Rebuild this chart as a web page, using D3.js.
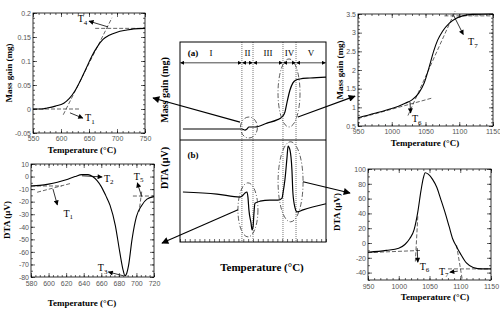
<!DOCTYPE html>
<html><head><meta charset="utf-8">
<script src="https://cdn.jsdelivr.net/npm/d3@7"></script>
<style>body{margin:0;background:#fff}</style>
</head><body>
<svg id="c" width="500" height="309" xmlns="http://www.w3.org/2000/svg"></svg>
<script>
// ---------- data ----------
// top-left: mass gain 550-750 C
const tlTemp = [550,565,575,590,605,615,625,635,645,655,665,675,685,700,715,730,750];
const tlMass = [0,0,0.002,0.006,0.012,0.022,0.038,0.06,0.085,0.11,0.13,0.145,0.153,0.16,0.164,0.167,0.168];
const tlTicksX = [550,600,650,700,750];
const tlTicksY = [-0.05,0,0.05,0.1,0.15,0.2];
// top-right: mass gain 950-1150 C
const trTemp = [950,975,1000,1010,1020,1030,1040,1048,1055,1062,1068,1075,1085,1095,1105,1120,1150];
const trMass = [0.72,0.84,0.97,1.03,1.11,1.2,1.38,1.65,2.05,2.5,2.8,3.03,3.25,3.38,3.45,3.49,3.5];
const trTicksX = [950,1000,1050,1100,1150];
const trTicksY = [0.5,1,1.5,2,2.5,3,3.5];
// bottom-left: DTA 580-720 C
const blTemp = [580,590,600,610,620,630,638,645,650,655,660,665,670,676,681,685,687,689,691,695,700,706,712,720];
const blDta  = [-7.5,-7,-6,-4.5,-2.5,0,1.5,1.5,0,-3,-8,-15,-23,-39,-60,-75,-79,-77,-71,-50,-32,-23,-18,-16];
const blTicksX = [580,600,620,640,660,680,700,720];
const blTicksY = [-80,-70,-60,-50,-40,-30,-20,-10,0,10];
// bottom-right: DTA 950-1150 C
const brTemp = [950,980,1000,1010,1018,1025,1031,1036,1040,1043,1048,1055,1062,1068,1075,1082,1088,1094,1100,1110,1121,1135,1150];
const brDta  = [-12.5,-10,-7,-2,6,18,42,70,88,95,93,86,75,60,42,22,5,-5,-14,-27,-33,-35,-35];
const brTicksX = [950,1000,1050,1100,1150];
const brTicksY = [-40,-20,0,20,40,60,80,100];
// middle overview (schematic)
const midTemp = [415,718,734,744,754,785,847,898,924,939,950,965,980,996,1016,1068,1150];
const midMass = [0.45,0.45,0.40,0.45,0.53,0.53,0.69,0.82,0.94,1.14,1.55,2.04,2.33,2.45,2.49,2.53,2.57];
const midDtaTemp = [415,590,708,724,734,744,749,754,765,770,775,780,785,811,862,903,924,929,939,950,955,965,975,980,991,1001,1032,1150];
const midDta = [-2,-6,-12,-8,-4,-2,-12,-37,-63,-76,-71,-43,-24,-20,-18,-18,-14,-4,22,67,88,80,41,-4,-33,-41,-37,-25];
const midBounds = [400,718,775,929,996,1150];
const regionLabels = ["I","II","III","IV","V"];

// ---------- setup ----------
const svg = d3.select("#c");
const defs = svg.append("defs");
function marker(id, w, h) {
  defs.append("marker").attr("id", id).attr("viewBox","0 0 10 10").attr("refX",9).attr("refY",5)
    .attr("markerUnits","userSpaceOnUse").attr("markerWidth",w).attr("markerHeight",h).attr("orient","auto-start-reverse")
    .append("path").attr("d","M0,0L10,5L0,10z").attr("fill","#000");
}
marker("big", 8, 7); marker("sm", 6, 5); marker("tiny", 4, 4);

const SERIF = "Liberation Serif, Times New Roman, serif";
const SANS = "Liberation Sans, Arial, sans-serif";

function styleAxis(sel) {
  sel.select(".domain").remove();
  sel.selectAll("line").attr("stroke","#000").attr("stroke-width",0.6);
  sel.selectAll("text").attr("font-family",SANS).attr("font-size",7).attr("fill","#555");
}
function minorVals(sc, step) {
  const [a,b] = sc.domain(); const out=[];
  for (let v=Math.min(a,b); v<=Math.max(a,b)+1e-9; v+=step) out.push(+v.toFixed(6));
  return out;
}
function frame(x, y, xMaj, xStep, yMaj, yStep, padX) {
  const g = svg.append("g");
  const [yb, yt] = y.range(), [xl, xr] = x.range();
  const fmt = d => String(+d.toFixed(3));
  g.append("g").attr("transform",`translate(0,${yb})`).call(d3.axisBottom(x).tickValues(minorVals(x,xStep)).tickSize(-2).tickFormat("")).call(styleAxis);
  g.append("g").attr("transform",`translate(0,${yb})`).call(d3.axisBottom(x).tickValues(xMaj).tickSize(-4).tickPadding(padX).tickFormat(fmt)).call(styleAxis);
  g.append("g").attr("transform",`translate(0,${yt})`).call(d3.axisTop(x).tickValues(minorVals(x,xStep)).tickSize(-2).tickFormat("")).call(styleAxis);
  g.append("g").attr("transform",`translate(0,${yt})`).call(d3.axisTop(x).tickValues(xMaj).tickSize(-4).tickFormat("")).call(styleAxis);
  g.append("g").attr("transform",`translate(${xl},0)`).call(d3.axisLeft(y).tickValues(minorVals(y,yStep)).tickSize(-2).tickFormat("")).call(styleAxis);
  g.append("g").attr("transform",`translate(${xl},0)`).call(d3.axisLeft(y).tickValues(yMaj).tickSize(-4).tickPadding(2).tickFormat(fmt)).call(styleAxis);
  g.append("g").attr("transform",`translate(${xr},0)`).call(d3.axisRight(y).tickValues(minorVals(y,yStep)).tickSize(-2).tickFormat("")).call(styleAxis);
  g.append("g").attr("transform",`translate(${xr},0)`).call(d3.axisRight(y).tickValues(yMaj).tickSize(-4).tickFormat("")).call(styleAxis);
  g.append("rect").attr("x",xl).attr("y",yt).attr("width",xr-xl).attr("height",yb-yt)
    .attr("fill","none").attr("stroke","#000").attr("stroke-width",0.8);
  return g;
}
function curve(x, y, xs, ys, w) {
  svg.append("path").datum(xs.map((d,i)=>[d, ys[i]]))
    .attr("d", d3.line().x(d=>x(d[0])).y(d=>y(d[1])).curve(d3.curveMonotoneX))
    .attr("fill","none").attr("stroke","#000").attr("stroke-width",w||1.1);
}
function dashed(x, y, p, q) {
  svg.append("line").attr("x1",x(p[0])).attr("y1",y(p[1])).attr("x2",x(q[0])).attr("y2",y(q[1]))
    .attr("stroke","#222").attr("stroke-width",0.7).attr("stroke-dasharray","4,2");
}
function arrow(x1,y1,x2,y2,m,w) {
  svg.append("line").attr("x1",x1).attr("y1",y1).attr("x2",x2).attr("y2",y2)
    .attr("stroke","#000").attr("stroke-width",w||0.8).attr("marker-end",`url(#${m})`);
}
function tlabel(px, py, n, anchor) {
  const t = svg.append("text").attr("x",px).attr("y",py).attr("font-family",SERIF).attr("font-size",10)
    .attr("text-anchor",anchor||"start").attr("fill","#000");
  t.append("tspan").text("T");
  t.append("tspan").attr("font-size",7).attr("dy",2.5).text(n);
}
function title(px, py, txt, size, rot) {
  const t = svg.append("text").attr("font-family",SERIF).attr("font-weight","bold").attr("font-size",size)
    .attr("text-anchor","middle").attr("fill","#000").text(txt);
  if (rot) t.attr("transform",`translate(${px},${py}) rotate(-90)`);
  else t.attr("x",px).attr("y",py);
}

// ---------- top-left ----------
const tlX = d3.scaleLinear().domain([550,750]).range([33,145]);
const tlY = d3.scaleLinear().domain([-0.05,0.2]).range([133,13]);
frame(tlX, tlY, tlTicksX, 10, tlTicksY, 0.01, 3);
dashed(tlX, tlY, [550,0], [635,0]);
dashed(tlX, tlY, [604,-0.012], [691,0.19]);
dashed(tlX, tlY, [661,0.168], [750,0.168]);
curve(tlX, tlY, tlTemp, tlMass);
arrow(tlX(616), tlY(-0.008), tlX(639), tlY(-0.019), "sm");
tlabel(tlX(643), tlY(-0.026), "1");
arrow(tlX(684), tlY(0.171), tlX(650), tlY(0.183), "sm");
tlabel(tlX(647), tlY(0.181), "4", "end");
title(12, 73, "Mass gain (mg)", 9, true);
title(82, 153, "Temperature (°C)", 9);

// ---------- top-right ----------
const trX = d3.scaleLinear().domain([950,1150]).range([358,493]);
const trY = d3.scaleLinear().domain([0.5,3.5]).range([126,14]);
frame(trX, trY, trTicksX, 10, trTicksY, 0.1, 3);
dashed(trX, trY, [950,0.70], [1060,1.25]);
dashed(trX, trY, [1024,0.78], [1094,3.58]);
dashed(trX, trY, [1078,3.45], [1150,3.45]);
curve(trX, trY, trTemp, trMass);
arrow(trX(1027), trY(1.14), trX(1028), trY(0.85), "sm");
tlabel(trX(1030), trY(0.6), "6");
arrow(trX(1092), trY(3.45), trX(1106), trY(2.95), "sm");
tlabel(trX(1113), trY(2.66), "7");
title(343, 70, "Mass gain (mg)", 9, true);
title(425, 146, "Temperature (°C)", 9);

// ---------- bottom-left ----------
const blX = d3.scaleLinear().domain([580,720]).range([31,154]);
const blY = d3.scaleLinear().domain([-80,10]).range([277,164]);
frame(blX, blY, blTicksX, 5, blTicksY, 5, 4);
dashed(blX, blY, [580,-7.5], [615,-7.5]);
dashed(blX, blY, [587,-12.5], [625,-5.5]);
dashed(blX, blY, [696,-15.5], [720,-15.5]);
dashed(blX, blY, [706,-12], [703,-28]);
curve(blX, blY, blTemp, blDta);
arrow(blX(605), blY(-9.9), blX(610), blY(-22.6), "sm");
tlabel(blX(617), blY(-32), "1");
arrow(blX(638), blY(0.6), blX(661), blY(-0.3), "sm");
tlabel(blX(663), blY(-4.3), "2");
arrow(blX(685), blY(-79), blX(668), blY(-76), "sm");
tlabel(blX(667), blY(-75.5), "3", "end");
arrow(blX(706), blY(-16), blX(701), blY(-5), "sm");
tlabel(blX(697), blY(-2.5), "5");
title(10, 220, "DTA (µV)", 9, true);
title(82, 306, "Temperature (°C)", 9);

// ---------- bottom-right ----------
const brX = d3.scaleLinear().domain([950,1150]).range([368,491]);
const brY = d3.scaleLinear().domain([-50,100]).range([280,169]);
frame(brX, brY, brTicksX, 10, brTicksY, 10, 4);
dashed(brX, brY, [950,-13], [1037,-10]);
dashed(brX, brY, [1031,36], [1027,-25]);
dashed(brX, brY, [1080,-35], [1150,-35]);
dashed(brX, brY, [1094,-3], [1103,-48]);
curve(brX, brY, brTemp, brDta);
arrow(brX(1030), brY(-7), brX(1031), brY(-26), "sm");
tlabel(brX(1034), brY(-36), "6");
arrow(brX(1096), brY(-38), brX(1083), brY(-39.5), "sm");
tlabel(brX(1081), brY(-43), "7", "end");
title(340, 212, "DTA (µV)", 9, true);
title(435, 300, "Temperature (°C)", 9);

// ---------- middle overview ----------
const mX = d3.scaleLinear().domain([400,1150]).range([180,326]);
const mYa = d3.scaleLinear().domain([0,4]).range([140,42]);
const mYb = d3.scaleLinear().domain([-100,100]).range([242,140]);
// bottom ticks
svg.append("g").attr("transform","translate(0,242)")
  .call(d3.axisBottom(mX).tickValues(d3.range(400,1151,25)).tickSize(-3).tickFormat("")).call(styleAxis);
// dotted boundaries
midBounds.slice(1,-1).forEach(b => {
  svg.append("line").attr("x1",mX(b)).attr("x2",mX(b)).attr("y1",42).attr("y2",242)
    .attr("stroke","#777").attr("stroke-width",1).attr("stroke-dasharray","1,1");
});
// region arrows + labels
for (let i=0;i<regionLabels.length;i++) {
  const a = mX(midBounds[i]), b = mX(midBounds[i+1]);
  svg.append("line").attr("x1",a+0.5).attr("x2",b-0.5).attr("y1",mYa(3.15)).attr("y2",mYa(3.15))
    .attr("stroke","#333").attr("stroke-width",0.9)
    .attr("marker-start","url(#tiny)").attr("marker-end","url(#tiny)");
  svg.append("text").attr("x",(a+b)/2).attr("y",56).attr("text-anchor","middle")
    .attr("font-family",SERIF).attr("font-size",9).text(regionLabels[i]);
}
svg.append("text").attr("x",193).attr("y",56).attr("text-anchor","middle").attr("font-family",SERIF)
  .attr("font-weight","bold").attr("font-size",9).text("(a)");
svg.append("text").attr("x",193).attr("y",158).attr("text-anchor","middle").attr("font-family",SERIF)
  .attr("font-weight","bold").attr("font-size",9).text("(b)");
curve(mX, mYa, midTemp, midMass, 1.2);
curve(mX, mYb, midDtaTemp, midDta, 1.2);
// ellipses
const ell = [[mX(754), mYa(0.51), 8.5, 10.5], [mX(960), mYa(1.92), 11, 34],
             [mX(749), mYb(-37), 10, 27], [mX(968), mYb(18), 12.5, 40]];
ell.forEach(e => svg.append("ellipse").attr("cx",e[0]).attr("cy",e[1]).attr("rx",e[2]).attr("ry",e[3])
  .attr("fill","none").attr("stroke","#333").attr("stroke-width",0.8).attr("stroke-dasharray","5,2,1,2"));
// frame
svg.append("rect").attr("x",180).attr("y",42).attr("width",146).attr("height",200)
  .attr("fill","none").attr("stroke","#000").attr("stroke-width",1);
svg.append("line").attr("x1",180).attr("x2",326).attr("y1",140).attr("y2",140).attr("stroke","#000").attr("stroke-width",1);
title(168, 90, "Mass gain (mg)", 10, true);
title(168, 168, "DTA (µV)", 10, true);
title(262, 271, "Temperature (°C)", 11);

// connecting arrows
arrow(mX(708), mYa(0.73), tlX(750)+8, tlY(0.023), "big", 1.1);
arrow(mX(1006), mYa(0.94), trX(950)-3, trY(1.3), "big", 1.1);
arrow(mX(698), mYb(-37), blX(720)+8, blY(-53), "big", 1.1);
arrow(mX(1032), mYb(18), brX(950)-18, brY(67.6), "big", 1.1);
</script>
</body></html>
